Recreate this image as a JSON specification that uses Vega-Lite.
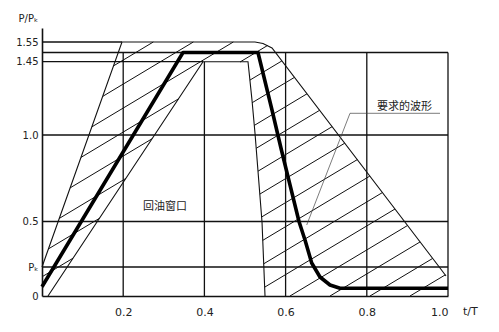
{
  "$schema": "https://vega.github.io/schema/vega-lite/v6.json",
  "width": 406,
  "height": 268,
  "autosize": {"type": "none"},
  "padding": {"left": 42, "top": 28, "right": 51, "bottom": 36},
  "background": "white",
  "config": {"view": {"stroke": null}, "font": "DejaVu Sans"},
  "datasets": {
    "grid_h": [
      {"y": 1.55, "x": 0, "x2": 0.197},
      {"y": 1.5, "x": 0, "x2": 1},
      {"y": 1.45, "x": 0, "x2": 0.3966},
      {"y": 1.0, "x": 0, "x2": 1},
      {"y": 0.5, "x": 0, "x2": 1},
      {"y": 0.2, "x": 0, "x2": 1}
    ],
    "grid_v": [
      {"x": 0.2, "y": 0, "y2": 1.5},
      {"x": 0.4, "y": 0, "y2": 1.45},
      {"x": 0.6, "y": 0, "y2": 1.5},
      {"x": 0.8, "y": 0, "y2": 1.5},
      {"x": 1.0, "y": 0, "y2": 1.5}
    ],
    "bounds": [
      {"s": "outer", "i": 1, "x": 0, "y": 0.2},
      {"s": "outer", "i": 2, "x": 0.197, "y": 1.55},
      {"s": "outer", "i": 3, "x": 0.5246, "y": 1.55},
      {"s": "outer", "i": 4, "x": 0.5443, "y": 1.5429},
      {"s": "outer", "i": 5, "x": 0.5616, "y": 1.5262},
      {"s": "outer", "i": 6, "x": 0.5665, "y": 1.5214},
      {"s": "outer", "i": 7, "x": 0.9803, "y": 0.1931},
      {"s": "outer", "i": 8, "x": 0.9951, "y": 0.1379},
      {"s": "inner", "i": 1, "x": 0.0148, "y": 0},
      {"s": "inner", "i": 2, "x": 0.3966, "y": 1.45},
      {"s": "inner", "i": 3, "x": 0.5074, "y": 1.45},
      {"s": "inner", "i": 4, "x": 0.5172, "y": 1.2149},
      {"s": "inner", "i": 5, "x": 0.5246, "y": 1.0123},
      {"s": "inner", "i": 6, "x": 0.5419, "y": 0.4967},
      {"s": "inner", "i": 7, "x": 0.5493, "y": 0}
    ],
    "bold": [
      {"i": 1, "x": 0, "y": 0.0641},
      {"i": 2, "x": 0.3473, "y": 1.5},
      {"i": 3, "x": 0.532, "y": 1.5},
      {"i": 4, "x": 0.5665, "y": 1.1535},
      {"i": 5, "x": 0.5897, "y": 0.9133},
      {"i": 6, "x": 0.633, "y": 0.5},
      {"i": 7, "x": 0.6478, "y": 0.378},
      {"i": 8, "x": 0.6643, "y": 0.2264},
      {"i": 9, "x": 0.6847, "y": 0.131},
      {"i": 10, "x": 0.7094, "y": 0.0759},
      {"i": 11, "x": 0.734, "y": 0.0531},
      {"i": 12, "x": 1.0, "y": 0.0531}
    ],
    "hatch": [
      {"x": 0.1761, "y": 1.4242, "x2": 0.2741, "y2": 1.55},
      {"x": 0.1495, "y": 1.237, "x2": 0.3727, "y2": 1.55},
      {"x": 0.1227, "y": 1.0497, "x2": 0.4712, "y2": 1.55},
      {"x": 0.0961, "y": 0.8705, "x2": 0.3365, "y2": 1.2222},
      {"x": 0.4877, "y": 1.448, "x2": 0.5559, "y2": 1.5338},
      {"x": 0.0692, "y": 0.6942, "x2": 0.2714, "y2": 0.9786},
      {"x": 0.5121, "y": 1.337, "x2": 0.5909, "y2": 1.4543},
      {"x": 0.0426, "y": 0.5179, "x2": 0.2064, "y2": 0.7486},
      {"x": 0.5177, "y": 1.1983, "x2": 0.6217, "y2": 1.3536},
      {"x": 0.0158, "y": 0.3193, "x2": 0.1416, "y2": 0.5185},
      {"x": 0.5229, "y": 1.0589, "x2": 0.6527, "y2": 1.2529},
      {"x": 0, "y": 0.1324, "x2": 0.0764, "y2": 0.258},
      {"x": 0.5276, "y": 0.9231, "x2": 0.6838, "y2": 1.1516},
      {"x": 0.532, "y": 0.7908, "x2": 0.7145, "y2": 1.051},
      {"x": 0.5365, "y": 0.6584, "x2": 0.7456, "y2": 0.9526},
      {"x": 0.5409, "y": 0.526, "x2": 0.7766, "y2": 0.8578},
      {"x": 0.5436, "y": 0.3754, "x2": 0.8074, "y2": 0.7624},
      {"x": 0.5461, "y": 0.2211, "x2": 0.8384, "y2": 0.6671},
      {"x": 0.5483, "y": 0.0607, "x2": 0.8695, "y2": 0.5723},
      {"x": 0.6108, "y": 0, "x2": 0.9003, "y2": 0.4736},
      {"x": 0.7094, "y": 0, "x2": 0.9313, "y2": 0.3655},
      {"x": 0.8079, "y": 0, "x2": 0.9623, "y2": 0.2567},
      {"x": 0.9064, "y": 0, "x2": 0.9936, "y2": 0.1462}
    ],
    "leader": [
      {"x": 0.9803, "y": 1.1332, "x2": 0.7586, "y2": 1.1332},
      {"x": 0.7586, "y": 1.1332, "x2": 0.652, "y2": 0.4769}
    ],
    "notes": [
      {"x": 0.8929, "y": 1.1737, "t": "要求的波形"},
      {"x": 0.303, "y": 0.5838, "t": "回油窗口"}
    ],
    "unit": [
      {"x": 1.0, "y": 0, "t": "t/T"}
    ]
  },
  "encoding": {
    "x": {"field": "x", "type": "quantitative",
      "scale": {"domain": [0, 1], "nice": false, "zero": false},
      "axis": {"values": [0.2, 0.4, 0.6, 0.8, 1.0], "format": ".1f", "title": null, "grid": false,
        "ticks": false, "domain": true, "domainColor": "#111", "domainWidth": 1.6,
        "labelFont": "DejaVu Sans", "labelFontSize": 11, "labelColor": "#222", "labelPadding": 10}},
    "y": {"field": "y", "type": "quantitative",
      "scale": {"domain": [0, 0.2, 0.5, 1, 1.45, 1.5, 1.55, 1.62], "range": [268, 239, 193.5, 107, 33.7, 24.5, 14, 0], "nice": false, "zero": false},
      "axis": {"values": [0, 0.2, 0.5, 1, 1.45, 1.55],
        "labelExpr": "datum.value == 0.2 ? 'Pₖ' : datum.value == 0 ? '0' : datum.value == 1 ? '1.0' : datum.value == 0.5 ? '0.5' : datum.value == 1.45 ? '1.45' : '1.55'",
        "grid": false, "ticks": false, "domain": true, "domainColor": "#111", "domainWidth": 1.6,
        "labelFont": "DejaVu Sans", "labelFontSize": 10, "labelColor": "#222", "labelPadding": 4,
        "title": "P/Pₖ", "titleAngle": 0, "titleAlign": "left", "titleBaseline": "middle",
        "titleX": -24, "titleY": -10, "titleFont": "DejaVu Sans", "titleFontSize": 10, "titleFontWeight": "normal", "titleColor": "#222"}}
  },
  "layer": [
    {
      "data": {"name": "grid_h"},
      "mark": {"type": "rule", "color": "#111", "strokeWidth": 1.3},
      "encoding": {"x2": {"field": "x2"}}
    },
    {
      "data": {"name": "grid_v"},
      "mark": {"type": "rule", "color": "#111", "strokeWidth": 1.3},
      "encoding": {"y2": {"field": "y2"}}
    },
    {
      "data": {"name": "hatch"},
      "mark": {"type": "rule", "color": "#111", "strokeWidth": 1},
      "encoding": {"x2": {"field": "x2"}, "y2": {"field": "y2"}}
    },
    {
      "data": {"name": "bounds"},
      "mark": {"type": "line", "color": "#111", "strokeWidth": 1.1},
      "encoding": {
        "detail": {"field": "s", "type": "nominal"},
        "order": {"field": "i", "type": "quantitative"}
      }
    },
    {
      "data": {"name": "leader"},
      "mark": {"type": "rule", "color": "#444", "strokeWidth": 0.7},
      "encoding": {"x2": {"field": "x2"}, "y2": {"field": "y2"}}
    },
    {
      "data": {"name": "bold"},
      "mark": {"type": "line", "color": "#000", "strokeWidth": 3.6, "strokeJoin": "round"},
      "encoding": {"order": {"field": "i", "type": "quantitative"}}
    },
    {
      "data": {"name": "notes"},
      "mark": {"type": "text", "font": "Noto Sans CJK SC", "fontSize": 11, "color": "#222", "align": "center", "baseline": "middle"},
      "encoding": {"text": {"field": "t", "type": "nominal"}}
    },
    {
      "data": {"name": "unit"},
      "mark": {"type": "text", "font": "DejaVu Sans", "fontSize": 11, "color": "#222", "align": "left", "baseline": "middle", "dx": 15, "dy": 16},
      "encoding": {"text": {"field": "t", "type": "nominal"}}
    }
  ]
}
